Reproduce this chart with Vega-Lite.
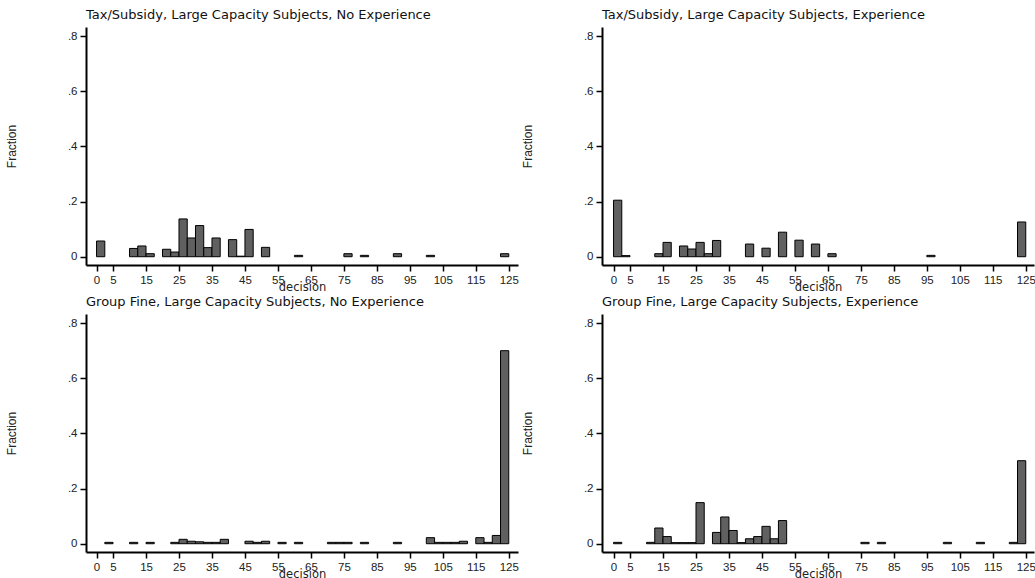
{
  "$schema": "https://vega.github.io/schema/vega-lite/v6.json",
  "background": "white",
  "padding": {"left": 5, "top": 9, "right": 0, "bottom": 0},
  "datasets": {
    "bins": [
      {"panel": "TL", "lo": 0, "hi": 2.5, "frac": 0.057},
      {"panel": "TL", "lo": 10, "hi": 12.5, "frac": 0.030},
      {"panel": "TL", "lo": 12.5, "hi": 15, "frac": 0.039},
      {"panel": "TL", "lo": 15, "hi": 17.5, "frac": 0.011},
      {"panel": "TL", "lo": 20, "hi": 22.5, "frac": 0.027},
      {"panel": "TL", "lo": 22.5, "hi": 25, "frac": 0.017},
      {"panel": "TL", "lo": 25, "hi": 27.5, "frac": 0.137},
      {"panel": "TL", "lo": 27.5, "hi": 30, "frac": 0.068},
      {"panel": "TL", "lo": 30, "hi": 32.5, "frac": 0.113},
      {"panel": "TL", "lo": 32.5, "hi": 35, "frac": 0.033},
      {"panel": "TL", "lo": 35, "hi": 37.5, "frac": 0.068},
      {"panel": "TL", "lo": 40, "hi": 42.5, "frac": 0.062},
      {"panel": "TL", "lo": 42.5, "hi": 45, "frac": 0.002},
      {"panel": "TL", "lo": 45, "hi": 47.5, "frac": 0.099},
      {"panel": "TL", "lo": 50, "hi": 52.5, "frac": 0.034},
      {"panel": "TL", "lo": 60, "hi": 62.5, "frac": 0.005},
      {"panel": "TL", "lo": 75, "hi": 77.5, "frac": 0.011},
      {"panel": "TL", "lo": 80, "hi": 82.5, "frac": 0.005},
      {"panel": "TL", "lo": 90, "hi": 92.5, "frac": 0.011},
      {"panel": "TL", "lo": 100, "hi": 102.5, "frac": 0.005},
      {"panel": "TL", "lo": 122.5, "hi": 125, "frac": 0.011},

      {"panel": "TR", "lo": 0, "hi": 2.5, "frac": 0.205},
      {"panel": "TR", "lo": 2.5, "hi": 5, "frac": 0.004},
      {"panel": "TR", "lo": 12.5, "hi": 15, "frac": 0.011},
      {"panel": "TR", "lo": 15, "hi": 17.5, "frac": 0.052},
      {"panel": "TR", "lo": 20, "hi": 22.5, "frac": 0.039},
      {"panel": "TR", "lo": 22.5, "hi": 25, "frac": 0.028},
      {"panel": "TR", "lo": 25, "hi": 27.5, "frac": 0.052},
      {"panel": "TR", "lo": 27.5, "hi": 30, "frac": 0.011},
      {"panel": "TR", "lo": 30, "hi": 32.5, "frac": 0.059},
      {"panel": "TR", "lo": 40, "hi": 42.5, "frac": 0.046},
      {"panel": "TR", "lo": 45, "hi": 47.5, "frac": 0.031},
      {"panel": "TR", "lo": 50, "hi": 52.5, "frac": 0.089},
      {"panel": "TR", "lo": 55, "hi": 57.5, "frac": 0.060},
      {"panel": "TR", "lo": 60, "hi": 62.5, "frac": 0.046},
      {"panel": "TR", "lo": 65, "hi": 67.5, "frac": 0.011},
      {"panel": "TR", "lo": 95, "hi": 97.5, "frac": 0.005},
      {"panel": "TR", "lo": 122.5, "hi": 125, "frac": 0.126},

      {"panel": "BL", "lo": 2.5, "hi": 5, "frac": 0.005},
      {"panel": "BL", "lo": 10, "hi": 12.5, "frac": 0.005},
      {"panel": "BL", "lo": 15, "hi": 17.5, "frac": 0.005},
      {"panel": "BL", "lo": 22.5, "hi": 25, "frac": 0.005},
      {"panel": "BL", "lo": 25, "hi": 27.5, "frac": 0.016},
      {"panel": "BL", "lo": 27.5, "hi": 30, "frac": 0.009},
      {"panel": "BL", "lo": 30, "hi": 32.5, "frac": 0.007},
      {"panel": "BL", "lo": 32.5, "hi": 35, "frac": 0.005},
      {"panel": "BL", "lo": 35, "hi": 37.5, "frac": 0.005},
      {"panel": "BL", "lo": 37.5, "hi": 40, "frac": 0.016},
      {"panel": "BL", "lo": 45, "hi": 47.5, "frac": 0.009},
      {"panel": "BL", "lo": 47.5, "hi": 50, "frac": 0.005},
      {"panel": "BL", "lo": 50, "hi": 52.5, "frac": 0.009},
      {"panel": "BL", "lo": 55, "hi": 57.5, "frac": 0.005},
      {"panel": "BL", "lo": 60, "hi": 62.5, "frac": 0.005},
      {"panel": "BL", "lo": 70, "hi": 72.5, "frac": 0.005},
      {"panel": "BL", "lo": 72.5, "hi": 75, "frac": 0.005},
      {"panel": "BL", "lo": 75, "hi": 77.5, "frac": 0.005},
      {"panel": "BL", "lo": 80, "hi": 82.5, "frac": 0.005},
      {"panel": "BL", "lo": 90, "hi": 92.5, "frac": 0.005},
      {"panel": "BL", "lo": 100, "hi": 102.5, "frac": 0.022},
      {"panel": "BL", "lo": 102.5, "hi": 105, "frac": 0.005},
      {"panel": "BL", "lo": 105, "hi": 107.5, "frac": 0.005},
      {"panel": "BL", "lo": 107.5, "hi": 110, "frac": 0.005},
      {"panel": "BL", "lo": 110, "hi": 112.5, "frac": 0.009},
      {"panel": "BL", "lo": 115, "hi": 117.5, "frac": 0.022},
      {"panel": "BL", "lo": 117.5, "hi": 120, "frac": 0.005},
      {"panel": "BL", "lo": 120, "hi": 122.5, "frac": 0.030},
      {"panel": "BL", "lo": 122.5, "hi": 125, "frac": 0.700},

      {"panel": "BR", "lo": 0, "hi": 2.5, "frac": 0.005},
      {"panel": "BR", "lo": 10, "hi": 12.5, "frac": 0.005},
      {"panel": "BR", "lo": 12.5, "hi": 15, "frac": 0.057},
      {"panel": "BR", "lo": 15, "hi": 17.5, "frac": 0.026},
      {"panel": "BR", "lo": 17.5, "hi": 20, "frac": 0.004},
      {"panel": "BR", "lo": 20, "hi": 22.5, "frac": 0.004},
      {"panel": "BR", "lo": 22.5, "hi": 25, "frac": 0.004},
      {"panel": "BR", "lo": 25, "hi": 27.5, "frac": 0.149},
      {"panel": "BR", "lo": 30, "hi": 32.5, "frac": 0.041},
      {"panel": "BR", "lo": 32.5, "hi": 35, "frac": 0.097},
      {"panel": "BR", "lo": 35, "hi": 37.5, "frac": 0.048},
      {"panel": "BR", "lo": 37.5, "hi": 40, "frac": 0.004},
      {"panel": "BR", "lo": 40, "hi": 42.5, "frac": 0.018},
      {"panel": "BR", "lo": 42.5, "hi": 45, "frac": 0.026},
      {"panel": "BR", "lo": 45, "hi": 47.5, "frac": 0.063},
      {"panel": "BR", "lo": 47.5, "hi": 50, "frac": 0.018},
      {"panel": "BR", "lo": 50, "hi": 52.5, "frac": 0.084},
      {"panel": "BR", "lo": 75, "hi": 77.5, "frac": 0.005},
      {"panel": "BR", "lo": 80, "hi": 82.5, "frac": 0.005},
      {"panel": "BR", "lo": 100, "hi": 102.5, "frac": 0.005},
      {"panel": "BR", "lo": 110, "hi": 112.5, "frac": 0.005},
      {"panel": "BR", "lo": 120, "hi": 122.5, "frac": 0.005},
      {"panel": "BR", "lo": 122.5, "hi": 125, "frac": 0.301}
    ]
  },
  "columns": 2,
  "spacing": {"row": 49, "column": 84},
  "bounds": "flush",
  "concat": [
    {
      "width": 432, "height": 238,
      "title": "Tax/Subsidy, Large Capacity Subjects, No Experience",
      "data": {"name": "bins"},
      "transform": [{"filter": "datum.panel == 'TL'"}],
      "mark": {"type": "bar", "fill": "#606060", "stroke": "#000000", "strokeWidth": 1},
      "encoding": {
        "x": {"field": "lo", "type": "quantitative", "scale": {"domain": [-3.2, 127.8], "nice": false, "zero": false}, "axis": {"values": [0, 5, 15, 25, 35, 45, 55, 65, 75, 85, 95, 105, 115, 125], "title": "decision"}},
        "x2": {"field": "hi"},
        "y": {"field": "frac", "type": "quantitative", "scale": {"domain": [-0.03, 0.833], "nice": false, "zero": false}, "axis": {"values": [0, 0.2, 0.4, 0.6, 0.8], "title": "Fraction", "labelExpr": "datum.value == 0 ? '0' : replace(format(datum.value, '.1f'), '0.', '.')"}},
        "y2": {"datum": 0}
      }
    },
    {
      "width": 432, "height": 238,
      "title": "Tax/Subsidy, Large Capacity Subjects, Experience",
      "data": {"name": "bins"},
      "transform": [{"filter": "datum.panel == 'TR'"}],
      "mark": {"type": "bar", "fill": "#606060", "stroke": "#000000", "strokeWidth": 1},
      "encoding": {
        "x": {"field": "lo", "type": "quantitative", "scale": {"domain": [-3.5, 127.5], "nice": false, "zero": false}, "axis": {"values": [0, 5, 15, 25, 35, 45, 55, 65, 75, 85, 95, 105, 115, 125], "title": "decision"}},
        "x2": {"field": "hi"},
        "y": {"field": "frac", "type": "quantitative", "scale": {"domain": [-0.03, 0.833], "nice": false, "zero": false}, "axis": {"values": [0, 0.2, 0.4, 0.6, 0.8], "title": "Fraction", "labelExpr": "datum.value == 0 ? '0' : replace(format(datum.value, '.1f'), '0.', '.')"}},
        "y2": {"datum": 0}
      }
    },
    {
      "width": 432, "height": 238,
      "title": "Group Fine, Large Capacity Subjects, No Experience",
      "data": {"name": "bins"},
      "transform": [{"filter": "datum.panel == 'BL'"}],
      "mark": {"type": "bar", "fill": "#606060", "stroke": "#000000", "strokeWidth": 1},
      "encoding": {
        "x": {"field": "lo", "type": "quantitative", "scale": {"domain": [-3.2, 127.8], "nice": false, "zero": false}, "axis": {"values": [0, 5, 15, 25, 35, 45, 55, 65, 75, 85, 95, 105, 115, 125], "title": "decision"}},
        "x2": {"field": "hi"},
        "y": {"field": "frac", "type": "quantitative", "scale": {"domain": [-0.03, 0.833], "nice": false, "zero": false}, "axis": {"values": [0, 0.2, 0.4, 0.6, 0.8], "title": "Fraction", "labelExpr": "datum.value == 0 ? '0' : replace(format(datum.value, '.1f'), '0.', '.')"}},
        "y2": {"datum": 0}
      }
    },
    {
      "width": 432, "height": 238,
      "title": "Group Fine, Large Capacity Subjects, Experience",
      "data": {"name": "bins"},
      "transform": [{"filter": "datum.panel == 'BR'"}],
      "mark": {"type": "bar", "fill": "#606060", "stroke": "#000000", "strokeWidth": 1},
      "encoding": {
        "x": {"field": "lo", "type": "quantitative", "scale": {"domain": [-3.5, 127.5], "nice": false, "zero": false}, "axis": {"values": [0, 5, 15, 25, 35, 45, 55, 65, 75, 85, 95, 105, 115, 125], "title": "decision"}},
        "x2": {"field": "hi"},
        "y": {"field": "frac", "type": "quantitative", "scale": {"domain": [-0.03, 0.833], "nice": false, "zero": false}, "axis": {"values": [0, 0.2, 0.4, 0.6, 0.8], "title": "Fraction", "labelExpr": "datum.value == 0 ? '0' : replace(format(datum.value, '.1f'), '0.', '.')"}},
        "y2": {"datum": 0}
      }
    }
  ],
  "config": {
    "view": {"stroke": null},
    "axis": {
      "domainColor": "#000000", "domainWidth": 2,
      "tickColor": "#000000", "tickWidth": 1.5, "tickSize": 6,
      "grid": false,
      "labelFont": "Liberation Sans", "labelFontSize": 11.5, "labelColor": "#222222",
      "titleFontWeight": "normal", "titleColor": "#222222"
    },
    "axisX": {"labelPadding": 3, "titlePadding": -4, "labelFlush": false, "labelOverlap": false, "titleFont": "DejaVu Sans", "titleFontSize": 11.5},
    "axisY": {"labelPadding": 3, "titlePadding": 49, "titleFont": "Liberation Sans", "titleFontSize": 12},
    "title": {"anchor": "start", "frame": "group", "fontSize": 13, "fontWeight": "normal", "font": "DejaVu Sans", "color": "#111111", "offset": 5}
  }
}
